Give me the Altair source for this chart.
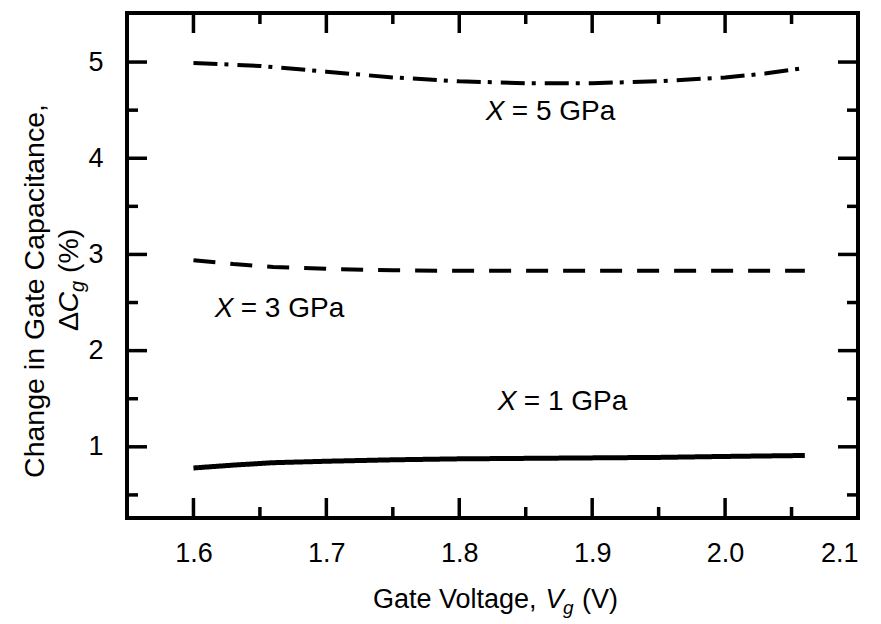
import altair as alt
import pandas as pd

# ---- data ----
vg_1 = [1.60, 1.63, 1.66, 1.70, 1.75, 1.80, 1.85, 1.90, 1.95, 2.00, 2.06]
dc_1 = [0.78, 0.81, 0.835, 0.85, 0.865, 0.875, 0.88, 0.885, 0.89, 0.90, 0.91]

vg_3 = [1.60, 1.63, 1.66, 1.70, 1.75, 1.80, 1.85, 1.90, 1.95, 2.00, 2.06]
dc_3 = [2.94, 2.90, 2.87, 2.85, 2.835, 2.83, 2.83, 2.83, 2.83, 2.83, 2.83]

vg_5 = [1.60, 1.65, 1.70, 1.75, 1.80, 1.85, 1.90, 1.95, 2.00, 2.03, 2.06]
dc_5 = [4.99, 4.96, 4.90, 4.84, 4.80, 4.78, 4.78, 4.80, 4.84, 4.88, 4.94]

label_x = [1.616, 1.820, 1.829]
label_y = [2.43, 4.48, 1.47]
label_rest = ["= 3 GPa", "= 5 GPa", "= 1 GPa"]

x_major = [1.6, 1.7, 1.8, 1.9, 2.0, 2.1]
x_minor = [1.55, 1.65, 1.75, 1.85, 1.95, 2.05]
y_major = [1, 2, 3, 4, 5]
y_minor = [0.5, 1.5, 2.5, 3.5, 4.5]

X_DOMAIN = [1.55, 2.1]
Y_DOMAIN = [0.26, 5.51]

W, H = 731, 505
FONT = "Liberation Sans"

rows = []
for name, xs_, ys_ in (("1", vg_1, dc_1), ("3", vg_3, dc_3), ("5", vg_5, dc_5)):
    for a, b in zip(xs_, ys_):
        rows.append({"vg": a, "dc": b, "s": name})
df = pd.DataFrame(rows)

xs = alt.Scale(domain=X_DOMAIN, nice=False, zero=False)
ys = alt.Scale(domain=Y_DOMAIN, nice=False, zero=False)

xax = alt.Axis(values=x_major, format=".1f", title=None, ticks=False, tickSize=0,
               domain=False, grid=False, labelFontSize=27, labelFont=FONT,
               labelColor="black", labelPadding=22)
yax = alt.Axis(values=y_major, format="d", title=None, ticks=False, tickSize=0,
               domain=False, grid=False, labelFontSize=27, labelFont=FONT,
               labelColor="black", labelPadding=24)

base = alt.Chart(df)

def series(name, dash, width):
    return base.transform_filter(alt.datum.s == name).mark_line(
        color="black", strokeWidth=width, strokeDash=dash, strokeCap="butt"
    ).encode(
        x=alt.X("vg:Q", scale=xs, axis=xax),
        y=alt.Y("dc:Q", scale=ys, axis=yax),
    )

line1 = series("1", [1, 0], 5)
line3 = series("3", [22, 15], 4)
line5 = series("5", [24, 7, 4, 9], 4)

# ---- inward ticks on all four sides ----
TW = 3.5
def xticks(vals, length):
    d = pd.DataFrame({"v": vals})
    bot = alt.Chart(d).mark_rule(color="black", strokeWidth=TW).encode(
        x=alt.X("v:Q", scale=xs), y=alt.value(H), y2=alt.value(H - length))
    top = alt.Chart(d).mark_rule(color="black", strokeWidth=TW).encode(
        x=alt.X("v:Q", scale=xs), y=alt.value(0), y2=alt.value(length))
    return [bot, top]

def yticks(vals, length):
    d = pd.DataFrame({"v": vals})
    lef = alt.Chart(d).mark_rule(color="black", strokeWidth=TW).encode(
        y=alt.Y("v:Q", scale=ys), x=alt.value(0), x2=alt.value(length))
    rig = alt.Chart(d).mark_rule(color="black", strokeWidth=TW).encode(
        y=alt.Y("v:Q", scale=ys), x=alt.value(W), x2=alt.value(W - length))
    return [lef, rig]

ticks = xticks(x_major, 20) + xticks(x_minor, 11) + yticks(y_major, 20) + yticks(y_minor, 11)

# ---- curve labels ----
ldf = pd.DataFrame({"x": label_x, "y": label_y, "rest": label_rest})
lab_x = alt.Chart(ldf).mark_text(
    text="X", fontSize=28, font=FONT, fontStyle="italic", align="left", baseline="middle", color="black"
).encode(x=alt.X("x:Q", scale=xs), y=alt.Y("y:Q", scale=ys))
lab_rest = alt.Chart(ldf).mark_text(
    fontSize=28, font=FONT, align="left", baseline="middle", dx=26, color="black"
).encode(x=alt.X("x:Q", scale=xs), y=alt.Y("y:Q", scale=ys), text="rest:N")

# ---- axis titles with italic / subscript parts ----
one = pd.DataFrame({"k": [0]})
def txt(t, x, y, size=27, style="normal", angle=0, align="left"):
    return alt.Chart(one).mark_text(
        text=t, fontSize=size, font=FONT, fontStyle=style, angle=angle,
        align=align, baseline="alphabetic", color="black"
    ).encode(x=alt.value(x), y=alt.value(y))

xt_y = 595
xtitle = [
    txt("Gate Voltage,", 246, xt_y),
    txt("V", 418.6, xt_y, style="italic"),
    txt("g", 436, xt_y + 6, size=19, style="italic"),
    txt("(V)", 455, xt_y),
]

YS = 28.5
yc1 = 278
yb = 318
lx2 = -49
ytitle = [
    txt("Change in Gate Capacitance,", -83, yc1, size=YS, angle=270, align="center"),
    txt("\u0394", lx2, yb, size=YS, angle=270),
    txt("C", lx2, yb - 18.5, size=YS, angle=270, style="italic"),
    txt("g", lx2 + 6, yb - 39, size=20, angle=270, style="italic"),
    txt("(%)", lx2, yb - 58, size=YS, angle=270),
]

chart = alt.layer(line1, line3, line5, *ticks, lab_x, lab_rest, *xtitle, *ytitle).properties(
    width=W, height=H,
    autosize=alt.AutoSizeParams(type="none"),
    padding={"left": 119, "top": 5, "right": 15, "bottom": 103},
    background="white",
).configure_view(stroke="black", strokeWidth=4)

chart.save("out.html", embed_options={"renderer": "svg", "actions": False})
